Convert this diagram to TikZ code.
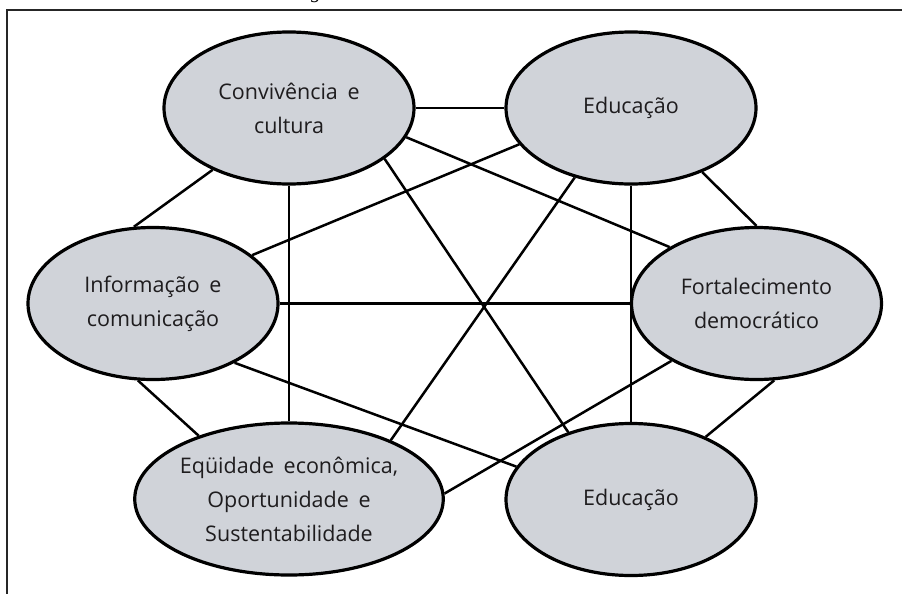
\documentclass[tikz,border=0pt]{standalone}
\usepackage{fontspec}
\setmainfont{Open Sans}
\newfontfamily\titlefont{Liberation Serif}
\usetikzlibrary{shapes.geometric}
\definecolor{ellfill}{RGB}{208,211,217}
\definecolor{txt}{RGB}{30,28,30}
\begin{document}
\begin{tikzpicture}[x=1pt,y=-1pt,
  bub/.style={ellipse, draw=black, line width=3.2pt, fill=ellfill,
    minimum width=250pt, minimum height=152pt, inner sep=0pt,
    align=center, text=txt, font=\fontsize{21.5}{34}\selectfont},
  link/.style={line width=2.5pt, draw=black},
  frame/.style={line width=1.3pt, draw=black!85}]
\useasboundingbox (0,0) rectangle (902,594);
\fill[white] (0,0) rectangle (902,594);
\node[font=\titlefont\itshape\fontsize{20}{20}\selectfont, anchor=base, inner sep=0pt] (ttl) at (316,-1.5) {g};
\draw[frame] (7,594) -- (7,10) -- (902,10);

\node[bub] (A) at (289,108) {Convivência\hspace{0.45em}e\\cultura};
\node[bub] (B) at (631,108) {Educação};
\node[bub] (C) at (153,303.5) {Informação\hspace{0.45em}e\\comunicação};
\node[bub] (D) at (756.5,303.5) {Fortalecimento\\democrático};
\node[bub] (E) at (289,499) {Eqüidade\hspace{0.45em}econômica,\\Oportunidade\hspace{0.45em}e\\Sustentabilidade};
\node[bub] (F) at (631,499.5) {Educação};

\draw[link] (A.east) -- (B.west);
\draw[link] (A.-141.4) -- (C.104.1);
\draw[link] (A.south) -- (E.north);
\draw[link] (A.-14.9) -- (D.147.1);
\draw[link] (A.-28.6) -- (F.133.6);
\draw[link] (B.-162.5) -- (C.26.3);
\draw[link] (B.-129) -- (E.30);
\draw[link] (B.south) -- (F.north);
\draw[link] (B.-42.2) -- (D.north);
\draw[link] (C.east) -- (D.west);
\draw[link] (C.-36.1) -- (F.164.1);
\draw[link] (C.-101.8) -- (E.145.4);
\draw[link] (D.-146.5) -- (E.2.6);
\draw[link] (D.-77.9) -- (F.40.7);
\end{tikzpicture}
\end{document}
